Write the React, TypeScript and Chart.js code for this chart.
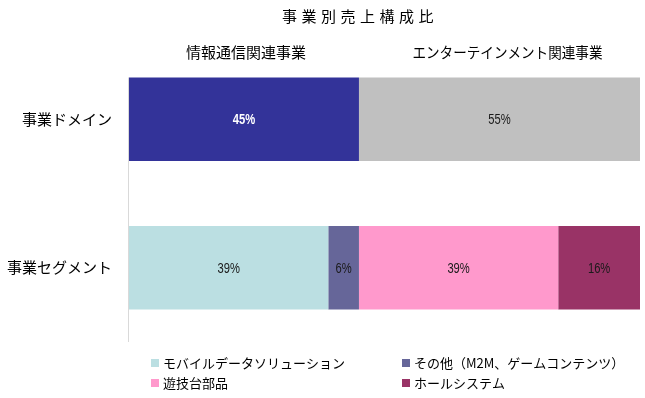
import { useEffect, useRef } from "react";
import { Chart, registerables } from "chart.js";

Chart.register(...registerables);

const titleText = "事業別売上構成比";
const categories = ["事業ドメイン", "事業セグメント"];
const domainLabels = ["情報通信関連事業", "エンターテインメント関連事業"];
const domainValues = [45, 55];
const segmentLabels = [
  "モバイルデータソリューション",
  "その他（M2M、ゲームコンテンツ）",
  "遊技台部品",
  "ホールシステム",
];
const segmentValues = [39, 6, 39, 16];

const domainColors = ["#333399", "#C0C0C0"];
const segmentColors = ["#BBDFE2", "#666699", "#FF99CC", "#993366"];
const domainLabelColors = ["#FFFFFF", "#1a1a1a"];
const domainLabelWeights = ["bold", "normal"];

const JP = '"Noto Sans CJK JP", "Noto Sans", sans-serif';
const NUM = '"Liberation Sans", "Arial", sans-serif';

export default function App() {
  const ref = useRef<HTMLCanvasElement>(null);

  useEffect(() => {
    const datasets: any[] = [];
    domainLabels.forEach((lab, i) => {
      datasets.push({
        label: lab,
        data: [domainValues[i], null],
        backgroundColor: domainColors[i],
        group: "domain",
        labelColor: domainLabelColors[i],
        labelWeight: domainLabelWeights[i],
      });
    });
    segmentLabels.forEach((lab, i) => {
      datasets.push({
        label: lab,
        data: [null, segmentValues[i]],
        backgroundColor: segmentColors[i],
        group: "segment",
        labelColor: "#1a1a1a",
        labelWeight: "normal",
      });
    });

    const axisLine = {
      id: "axisLine",
      beforeDatasetsDraw(chart: any) {
        const ctx = chart.ctx;
        const first = chart.getDatasetMeta(0).data[0];
        const top = first.y - first.height / 2;
        ctx.save();
        ctx.strokeStyle = "#D9D9D9";
        ctx.lineWidth = 1;
        ctx.beginPath();
        ctx.moveTo(chart.chartArea.left - 0.5, top);
        ctx.lineTo(chart.chartArea.left - 0.5, chart.chartArea.bottom);
        ctx.stroke();
        ctx.restore();
      },
    };

    const overlay = {
      id: "overlay",
      afterDatasetsDraw(chart: any) {
        const ctx = chart.ctx;
        ctx.save();
        // data labels
        chart.data.datasets.forEach((ds: any, di: number) => {
          const meta = chart.getDatasetMeta(di);
          meta.data.forEach((el: any, idx: number) => {
            const v = ds.data[idx];
            if (v == null) return;
            const cx = (el.x + el.base) / 2;
            const txt = `${v}%`;
            ctx.font = `${ds.labelWeight} 14px ${NUM}`;
            ctx.fillStyle = ds.labelColor;
            ctx.textAlign = "center";
            ctx.textBaseline = "middle";
            const w = ctx.measureText(txt).width * 0.8;
            ctx.fillText(txt, cx, el.y + 1, w);
          });
        });
        // headers over domain bar
        chart.data.datasets.forEach((ds: any, di: number) => {
          if (ds.group !== "domain") return;
          const el = chart.getDatasetMeta(di).data[0];
          const cx = (el.x + el.base) / 2 + (di === 1 ? 8 : 2);
          ctx.font = `15px ${JP}`;
          ctx.fillStyle = "#000";
          ctx.textAlign = "center";
          ctx.textBaseline = "middle";
          ctx.fillText(ds.label, cx, 52, di === 1 ? 190 : 122);
        });
        // title
        ctx.font = `15px ${JP}`;
        ctx.fillStyle = "#000";
        ctx.textAlign = "center";
        ctx.textBaseline = "middle";
        (ctx as any).letterSpacing = "4.5px";
        ctx.fillText(titleText, 360, 16);
        (ctx as any).letterSpacing = "0px";
        // legend
        const segs = chart.data.datasets.filter((d: any) => d.group === "segment");
        const colX = [151, 402];
        const rowY = [363, 383];
        segs.forEach((ds: any, i: number) => {
          const x = colX[i % 2];
          const y = rowY[Math.floor(i / 2)];
          ctx.fillStyle = ds.backgroundColor;
          ctx.fillRect(x, y - 4, 8, 8);
          ctx.font = `13px ${JP}`;
          ctx.fillStyle = "#000";
          ctx.textAlign = "left";
          ctx.textBaseline = "middle";
          ctx.fillText(ds.label, x + 12, y);
        });
        ctx.restore();
      },
    };

    const chart = new Chart(ref.current!, {
      type: "bar",
      data: { labels: categories, datasets },
      options: {
        animation: false,
        responsive: false,
        indexAxis: "y",
        categoryPercentage: 1,
        barPercentage: 0.563,
        layout: { padding: { top: 45, right: 5, bottom: 56, left: 0 } },
        plugins: {
          legend: { display: false },
          tooltip: { enabled: false },
          title: { display: false },
        },
        scales: {
          x: { stacked: true, min: 0, max: 100, display: false },
          y: {
            stacked: true,
            grid: { display: false },
            border: { display: false },
            ticks: { font: { family: JP, size: 15 }, color: "#000", padding: 9 },
            afterFit: (s: any) => {
              s.width = 129;
            },
          },
        },
      } as any,
      plugins: [axisLine, overlay],
    });
    return () => chart.destroy();
  }, []);

  return (
    <div style={{ position: "fixed", left: 0, top: 0, width: 645, height: 398, background: "#fff" }}>
      <canvas ref={ref} width={645} height={398} />
    </div>
  );
}
